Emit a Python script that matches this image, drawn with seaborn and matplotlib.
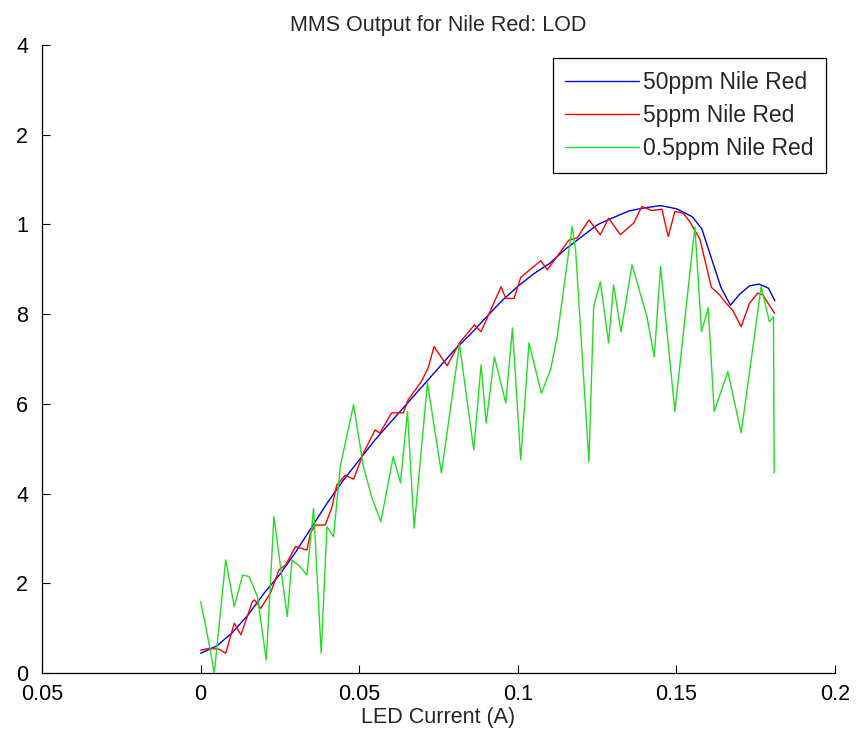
import pandas as pd
import matplotlib
matplotlib.use("Agg")
import matplotlib.pyplot as plt
import seaborn as sns

# blue curve (50ppm)
x50 = [0, 0.005, 0.01, 0.015, 0.02, 0.025, 0.03, 0.035, 0.04, 0.045, 0.05,
       0.055, 0.06, 0.065, 0.07, 0.075, 0.08, 0.085, 0.09, 0.095, 0.1, 0.105,
       0.11, 0.115, 0.12, 0.125, 0.13, 0.135, 0.14, 0.145, 0.15, 0.155, 0.158,
       0.161, 0.164, 0.167, 0.17, 0.173, 0.176, 0.179, 0.181]
y50 = [0.44, 0.6, 0.9, 1.3, 1.78, 2.2, 2.7, 3.25, 3.8, 4.3, 4.75,
       5.2, 5.6, 6.0, 6.4, 6.8, 7.2, 7.55, 7.93, 8.3, 8.62, 8.9,
       9.13, 9.45, 9.72, 9.99, 10.15, 10.3, 10.37, 10.42, 10.35, 10.17, 9.9,
       9.25, 8.6, 8.2, 8.45, 8.63, 8.67, 8.58, 8.3]

# red curve (5ppm)
x5 = [0, 0.0027, 0.0058, 0.0079, 0.0106, 0.0127, 0.0163, 0.017, 0.0189, 0.022,
      0.0247, 0.0268, 0.0288, 0.0299, 0.0335, 0.0346, 0.0362, 0.0393, 0.0414,
      0.0429, 0.0456, 0.0482, 0.0513, 0.055, 0.0565, 0.0602, 0.0639, 0.0654,
      0.0696, 0.0717, 0.0736, 0.0743, 0.0777, 0.0816, 0.0863, 0.0884, 0.0947,
      0.0962, 0.0988, 0.1009, 0.1072, 0.1093, 0.1161, 0.1187, 0.1224, 0.126,
      0.1286, 0.1323, 0.1365, 0.1391, 0.1422, 0.1454, 0.1474, 0.1495, 0.1521,
      0.1542, 0.1574, 0.161, 0.1636, 0.1657, 0.1677, 0.1704, 0.173, 0.1756,
      0.1772, 0.1809]
y5 = [0.51, 0.55, 0.53, 0.44, 1.11, 0.85, 1.59, 1.63, 1.44, 1.78,
      2.3, 2.41, 2.67, 2.82, 2.74, 3.12, 3.3, 3.3, 3.7,
      4.19, 4.41, 4.32, 4.9, 5.42, 5.35, 5.8, 5.8, 6.09,
      6.5, 6.8, 7.28, 7.2, 6.85, 7.36, 7.76, 7.61, 8.61,
      8.35, 8.35, 8.82, 9.19, 8.99, 9.65, 9.7, 10.1, 9.77,
      10.14, 9.77, 10.03, 10.4, 10.31, 10.34, 9.73, 10.29, 10.25,
      10.06, 9.67, 8.6, 8.43, 8.24, 8.09, 7.72, 8.24, 8.47,
      8.43, 8.02]

# green curve (0.5ppm)
x05 = [0, 0.002, 0.0043, 0.0079, 0.0106, 0.0132, 0.0153, 0.0179, 0.0207,
       0.0231, 0.0249, 0.0273, 0.0288, 0.0314, 0.0335, 0.0356, 0.038, 0.0398,
       0.0419, 0.044, 0.0482, 0.0513, 0.0539, 0.0568, 0.0607, 0.063, 0.0652,
       0.0673, 0.0715, 0.0759, 0.0816, 0.0861, 0.0884, 0.09, 0.0926, 0.0962,
       0.0983, 0.1009, 0.1035, 0.1074, 0.1103, 0.1124, 0.1171, 0.1182, 0.1224,
       0.1239, 0.126, 0.1286, 0.1302, 0.1325, 0.136, 0.1407, 0.143, 0.145,
       0.1495, 0.1558, 0.1579, 0.16, 0.1619, 0.1662, 0.1704, 0.1767, 0.1793,
       0.1806, 0.1808]
y05 = [1.59, 0.9, 0.0, 2.52, 1.48, 2.18, 2.15, 1.7, 0.29,
       3.49, 2.52, 1.26, 2.52, 2.37, 2.18, 3.67, 0.44, 3.26,
       3.04, 4.6, 5.98, 4.6, 3.93, 3.37, 4.82, 4.24, 5.83,
       3.23, 6.47, 4.46, 7.33, 4.97, 6.87, 5.57, 7.05, 6.02,
       7.69, 4.75, 7.36, 6.24, 6.76, 7.5, 9.95, 9.43, 4.71,
       8.17, 8.72, 7.36, 8.65, 7.61, 9.1, 7.94, 7.05, 9.06,
       5.83, 9.95, 7.61, 8.14, 5.83, 6.72, 5.35, 8.61, 7.83,
       7.94, 4.46]

labels = ["50ppm Nile Red", "5ppm Nile Red", "0.5ppm Nile Red"]
colors = ["#0000ee", "#ff0000", "#22dd22"]

xticks = [-0.05, 0, 0.05, 0.1, 0.15, 0.2]
xticklabels = ["0.05", "0", "0.05", "0.1", "0.15", "0.2"]
yticks = [0, 2, 4, 6, 8, 10, 12, 14]
yticklabels = ["0", "2", "4", "6", "8", "1", "2", "4"]

frames = []
for lab, xs, ys in zip(labels, [x50, x5, x05], [y50, y5, y05]):
    d = pd.DataFrame({"x": xs, "y": ys})
    d["series"] = lab
    frames.append(d)
df = pd.concat(frames, ignore_index=True)

sns.set_style("ticks")
plt.rcParams["font.family"] = ["Liberation Sans", "DejaVu Sans"]

fig = plt.figure(figsize=(8.65, 7.39), dpi=100)
ax = fig.add_axes([0.0486, 0.0893, 0.9168, 0.8498])

sns.lineplot(data=df, x="x", y="y", hue="series", hue_order=labels,
             palette=colors, estimator=None, sort=False, units="series",
             linewidth=1.0, ax=ax)

ax.set_xlim(-0.05, 0.2)
ax.set_ylim(0, 14)
ax.set_xticks(xticks)
ax.set_xticklabels(xticklabels)
ax.set_yticks(yticks)
ax.set_yticklabels(yticklabels)
ax.tick_params(axis="both", direction="in", length=6, width=0.8,
               labelsize=15.5, colors="black")
ax.tick_params(axis="x", pad=8)
ax.tick_params(axis="y", pad=10)
ax.spines["top"].set_visible(False)
ax.spines["right"].set_visible(False)
for s in ["left", "bottom"]:
    ax.spines[s].set_color("black")
    ax.spines[s].set_linewidth(0.9)

ax.set_xlabel("LED Current (A)", fontsize=15.5, labelpad=1)
ax.set_ylabel("")
ax.set_title("MMS Output for Nile Red: LOD", fontsize=15.5, pad=10)

handles, labs = ax.get_legend_handles_labels()
leg = ax.legend(handles, labs, loc="upper right",
                bbox_to_anchor=(0.989, 0.979), borderaxespad=0,
                fontsize=16.5, handlelength=3.2, handletextpad=0.2,
                labelspacing=0.45, borderpad=0.55, fancybox=False,
                framealpha=1, edgecolor="black")
leg.get_frame().set_linewidth(0.9)

fig.savefig("out.png", dpi=100)
